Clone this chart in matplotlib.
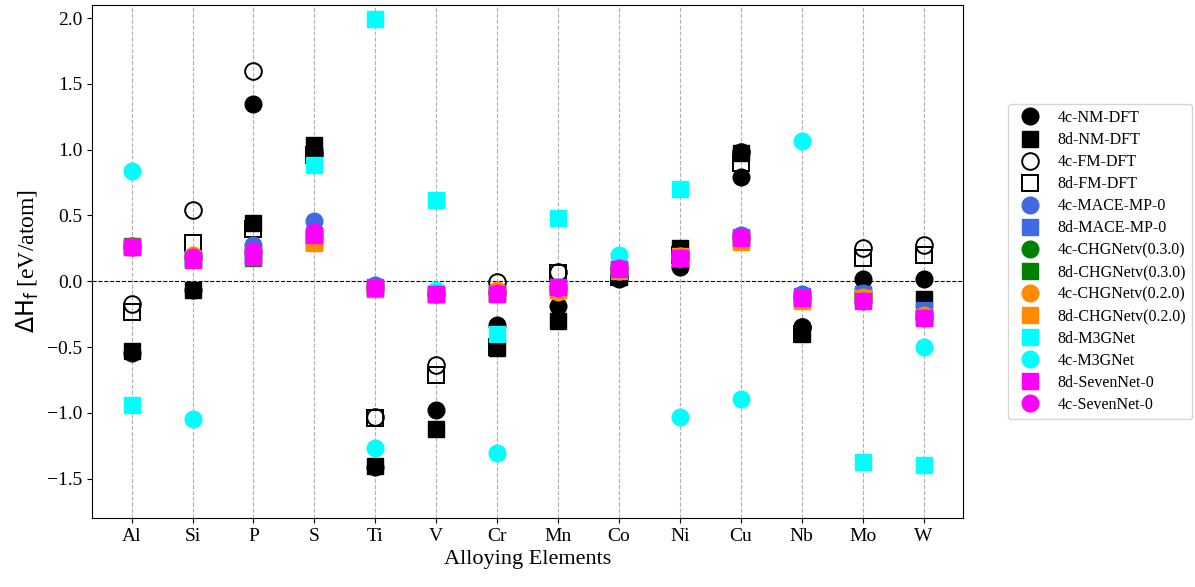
import matplotlib
matplotlib.use("Agg")
import matplotlib.pyplot as plt
import numpy as np

plt.rcParams["font.family"] = ["Liberation Serif", "DejaVu Serif"]
plt.rcParams["mathtext.fontset"] = "dejavusans"

elements = ["Al", "Si", "P", "S", "Ti", "V", "Cr", "Mn", "Co", "Ni", "Cu", "Nb", "Mo", "W"]

# formation enthalpies, eV/atom, one entry per alloying element
nm_4c = [-0.545, -0.07, 1.35, 1.00, -1.41, -0.98, -0.33, -0.19, 0.02, 0.11, 0.79, -0.345, 0.015, 0.02]
nm_8d = [-0.53, -0.069, 0.439, 1.038, -1.404, -1.122, -0.508, -0.302, 0.03, 0.249, 0.972, -0.403, -0.112, -0.132]
fm_4c = [-0.17, 0.541, 1.60, 0.97, -1.03, -0.64, -0.005, 0.071, 0.04, 0.20, 0.985, -0.345, 0.249, 0.274]
fm_8d = [-0.233, 0.29, 0.40, 0.96, -1.04, -0.716, -0.50, 0.06, 0.03, 0.20, 0.90, -0.403, 0.18, 0.198]
mace_4c = [0.27, 0.19, 0.274, 0.459, -0.03, -0.09, -0.08, -0.04, 0.10, 0.19, 0.35, -0.10, -0.09, -0.24]
mace_8d = [0.26, 0.17, 0.20, 0.34, -0.04, -0.10, -0.09, -0.04, 0.09, 0.18, 0.34, -0.11, -0.10, -0.22]
chgnet03_4c = [0.265, 0.18, 0.20, 0.33, -0.05, -0.10, -0.08, -0.06, 0.08, 0.17, 0.32, -0.13, -0.13, -0.27]
chgnet03_8d = [0.27, 0.17, 0.175, 0.30, -0.06, -0.10, -0.09, -0.07, 0.08, 0.17, 0.31, -0.14, -0.14, -0.27]
chgnet02_4c = [0.26, 0.20, 0.21, 0.32, -0.05, -0.10, -0.07, -0.08, 0.08, 0.19, 0.31, -0.14, -0.12, -0.26]
chgnet02_8d = [0.26, 0.17, 0.19, 0.294, -0.06, -0.10, -0.10, -0.07, 0.081, 0.19, 0.30, -0.15, -0.13, -0.27]
m3gnet_8d = [-0.939, 0.17, 0.19, 0.881, 1.99, 0.614, -0.398, 0.482, 0.09, 0.698, 0.33, -0.13, -1.376, -1.40]
m3gnet_4c = [0.838, -1.051, 0.20, 0.37, -1.266, -0.07, -1.302, -0.05, 0.198, -1.033, -0.898, 1.068, -0.15, -0.50]
sevennet_8d = [0.261, 0.16, 0.185, 0.35, -0.048, -0.096, -0.094, -0.046, 0.094, 0.175, 0.332, -0.127, -0.152, -0.279]
sevennet_4c = [0.26, 0.185, 0.228, 0.376, -0.05, -0.10, -0.09, -0.05, 0.10, 0.18, 0.34, -0.13, -0.15, -0.28]

series = [
    ("4c-NM-DFT", nm_4c, "o", "black", True),
    ("8d-NM-DFT", nm_8d, "s", "black", True),
    ("4c-FM-DFT", fm_4c, "o", "black", False),
    ("8d-FM-DFT", fm_8d, "s", "black", False),
    ("4c-MACE-MP-0", mace_4c, "o", "royalblue", True),
    ("8d-MACE-MP-0", mace_8d, "s", "royalblue", True),
    ("4c-CHGNetv(0.3.0)", chgnet03_4c, "o", "green", True),
    ("8d-CHGNetv(0.3.0)", chgnet03_8d, "s", "green", True),
    ("4c-CHGNetv(0.2.0)", chgnet02_4c, "o", "darkorange", True),
    ("8d-CHGNetv(0.2.0)", chgnet02_8d, "s", "darkorange", True),
    ("8d-M3GNet", m3gnet_8d, "s", "cyan", True),
    ("4c-M3GNet", m3gnet_4c, "o", "cyan", True),
    ("8d-SevenNet-0", sevennet_8d, "s", "magenta", True),
    ("4c-SevenNet-0", sevennet_4c, "o", "magenta", True),
]

fig = plt.figure(figsize=(11.95, 5.87), dpi=100)
ax = fig.add_axes([0.077, 0.1175, 0.729, 0.874])

x = np.arange(len(elements))
for label, vals, mk, col, filled in series:
    if filled:
        ax.plot(x, vals, linestyle="none", marker=mk, markersize=12,
                color=col, label=label)
    else:
        ax.plot(x, vals, linestyle="none", marker=mk, markersize=12,
                markerfacecolor="none", markeredgecolor=col,
                markeredgewidth=1.4, label=label)

ax.axhline(0, color="black", linestyle="--", lw=0.8, zorder=0)
ax.set_xticks(x)
ax.set_xticklabels(elements)
ax.grid(axis="x", linestyle="--", color="#b0b0b0", lw=0.8, zorder=0)
ax.set_axisbelow(True)
ax.set_ylim(-1.8, 2.1)
ax.tick_params(labelsize=14)
ax.set_xlabel("Alloying Elements", fontsize=16)
ax.set_ylabel(r"$\mathrm{\Delta H_f}$ [eV/atom]", fontsize=17)

ax.legend(loc="center left", bbox_to_anchor=(1.042, 0.5), fontsize=11.5,
          labelspacing=0.38, handletextpad=0.7, borderpad=0.4)

fig.savefig("out.png", dpi=100)
